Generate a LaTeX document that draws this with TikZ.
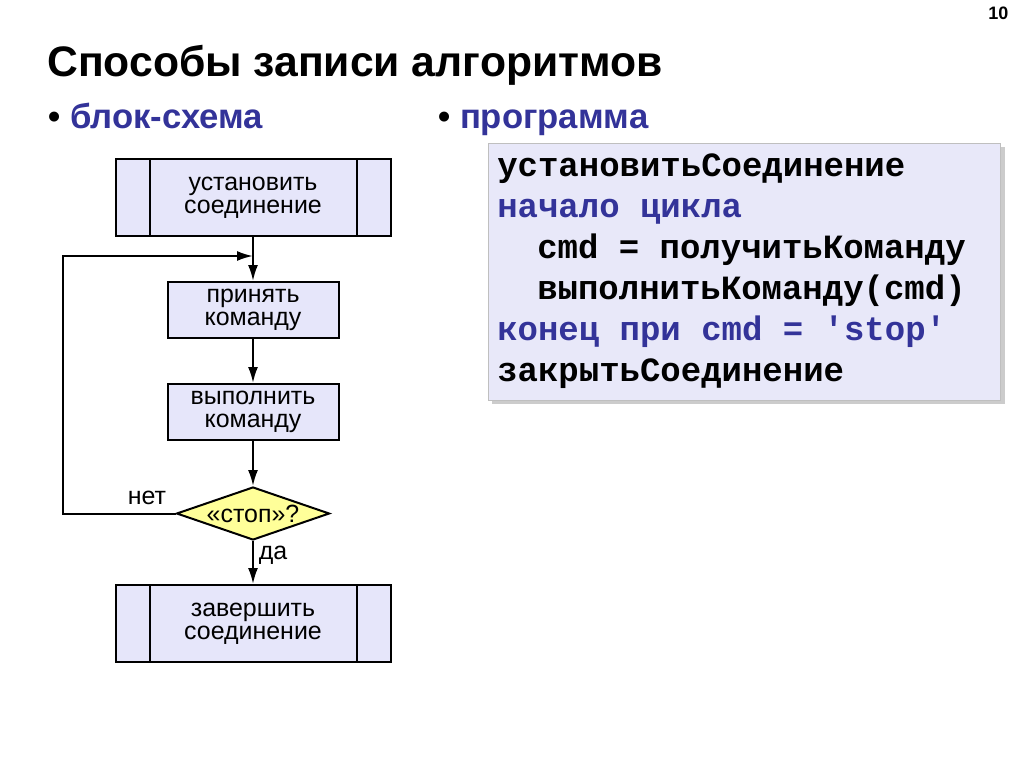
\documentclass[tikz,border=0pt]{standalone}
\usepackage{fontspec}
\setmainfont{Liberation Sans}
\setmonofont{Liberation Mono}
\usetikzlibrary{arrows.meta,shapes.geometric}
\definecolor{boxfill}{RGB}{230,230,250}
\definecolor{codefill}{RGB}{232,232,249}
\definecolor{askfill}{RGB}{255,255,153}
\definecolor{kwblue}{RGB}{51,51,153}
\newcommand{\kw}[1]{\textcolor{kwblue}{#1}}
\tikzset{
  block/.style={draw, fill=boxfill, line width=1.5pt, align=center,
    font=\fontsize{18.7}{17.5}\selectfont, inner sep=0pt},
  proc/.style={block, minimum width=128.25pt, minimum height=42pt},
  subproc/.style={block, minimum width=206.25pt, minimum height=57.75pt},
  ask/.style={diamond, draw, fill=askfill, line width=1.5pt, inner sep=0pt,
    shape aspect=2.9, minimum width=114.75pt, minimum height=39.75pt,
    font=\fontsize{18.7}{17.5}\selectfont},
  flow/.style={->, line width=1.5pt},
  lbl/.style={font=\fontsize{18.7}{17.5}\selectfont},
  code/.style={anchor=base west, inner sep=0pt,
    font=\ttfamily\bfseries\fontsize{25.5}{30}\selectfont}
}

\begin{document}
\begin{tikzpicture}[x=0.75pt, y=-0.75pt, >={Latex[length=12pt,width=7.5pt]}]
    \useasboundingbox (0,0) rectangle (1024,767);
    \node[anchor=base east, font=\bfseries\fontsize{13.5}{16}\selectfont] (num) at (1013,20) {10};
    \node[anchor=base west, inner sep=0pt, font=\bfseries\fontsize{32}{38}\selectfont] (title) at (47,76) {Способы записи алгоритмов};
    \node[anchor=base west, inner sep=0pt, font=\bfseries\fontsize{26}{30}\selectfont] (left) at (48,128) {•\ \kw{блок-схема}};
    \node[anchor=base west, inner sep=0pt, font=\bfseries\fontsize{26}{30}\selectfont] (right) at (438,128) {•\ \kw{программа}};

    % flowchart
    \node[subproc] (s1) at (253,197.5) {установить\\соединение};
    \node[proc] (p1) at (253,310) {принять\\команду};
    \node[proc] (p2) at (253,412) {выполнить\\команду};
    \node[ask] (d) at (253,513.5) {«стоп»?};
    \node[subproc] (s2) at (253,623.5) {завершить\\соединение};
    \foreach \n in {s1,s2} {
        \draw[line width=1.5pt] ([xshift=26.25pt]\n.north west) -- ([xshift=26.25pt]\n.south west);
        \draw[line width=1.5pt] ([xshift=-26.25pt]\n.north east) -- ([xshift=-26.25pt]\n.south east);
    }
    \coordinate (j) at (253,256);
    \draw[flow] (s1)--(p1);
    \draw[flow] (p1)--(p2);
    \draw[flow] (p2)--(d);
    \draw[flow] (d)--(s2);
    \draw[flow] (d.west) -- (63,513.5) |- (j);
    \node[lbl] (no) at (147,498) {нет};
    \node[lbl] (yes) at (273,555) {да};

    % program text
    \fill[black!20] (492,147) rectangle (1005,404);
    \node[draw=black!25, fill=codefill, anchor=north west, minimum width=384pt, minimum height=192.75pt, inner sep=0pt] (codebox) at (488,143) {};
    \node[code] (c1) at (497,176) {установитьСоединение};
    \node[code] (c2) at (497,217) {\kw{начало цикла}};
    \node[code] (c3) at (537,258) {cmd = получитьКоманду};
    \node[code] (c4) at (537,299) {выполнитьКоманду(cmd)};
    \node[code] (c5) at (497,340) {\kw{конец при cmd = 'stop'}};
    \node[code] (c6) at (497,381) {закрытьСоединение};
\end{tikzpicture}
\end{document}
